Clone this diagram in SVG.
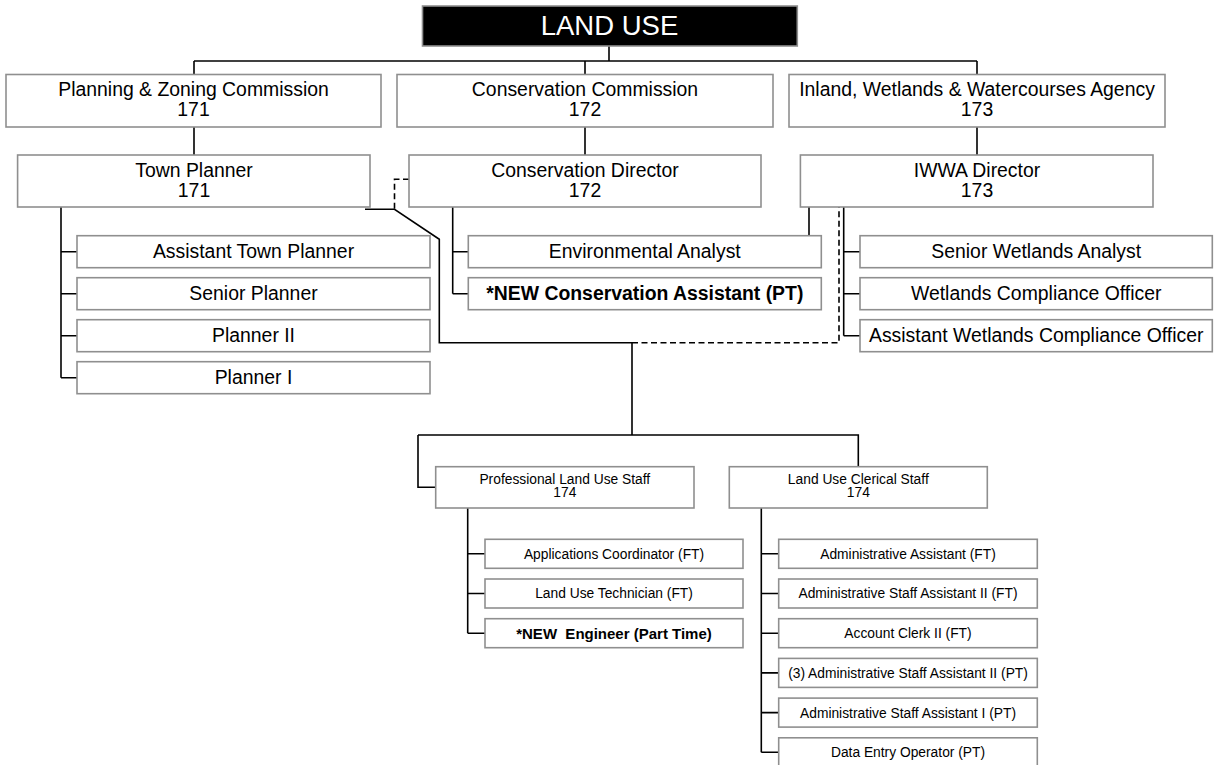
<svg xmlns="http://www.w3.org/2000/svg" width="1215" height="765" viewBox="0 0 1215 765">
  <style>
    .box { fill: #ffffff; stroke: #8f8f8f; stroke-width: 1.6; }
    .head { fill: #000000; stroke: #8f8f8f; stroke-width: 1.6; }
    .ln { fill: none; stroke: #000000; stroke-width: 1.6; }
    .dash { fill: none; stroke: #000000; stroke-width: 1.6; stroke-dasharray: 6 3.5; }
    text { font-family: "Liberation Sans", Arial, sans-serif; text-anchor: middle; fill: #000000; }
    .t1 { font-size: 19.4px; }
    .t2 { font-size: 13.8px; }
    .bold { font-weight: bold; }
    .title { font-size: 27.5px; fill: #ffffff; }
  </style>

  <rect width="1215" height="765" fill="#ffffff"/>

  <!-- reporting lines -->
  <g id="connectors">
    <!-- director level -->
    <path class="ln" d="M609 46 V61"/>
    <path class="ln" d="M194 61 H977"/>
    <path class="ln" d="M194 61 V74 M585 61 V74 M977 61 V74"/>
    <path class="ln" d="M194 127 V155 M585 127 V155 M977 127 V155"/>

    <!-- town planner staff -->
    <path class="ln" d="M61 207 V377.7"/>
    <path class="ln" d="M61 251.7 H77 M61 293.7 H77 M61 335.7 H77 M61 377.7 H77"/>

    <!-- conservation director staff -->
    <path class="ln" d="M452.7 207 V293.7"/>
    <path class="ln" d="M452.7 251.7 H468.3 M452.7 293.7 H468.3"/>
    <path class="ln" d="M809 207 V239"/>

    <!-- IWWA director staff -->
    <path class="ln" d="M843.7 207 V335.7"/>
    <path class="ln" d="M843.7 251.7 H860 M843.7 293.7 H860 M843.7 335.7 H860"/>

    <!-- shared land use staff -->
    <path class="ln" d="M365 209.3 H394.5 L439.3 239.3 V342.7 H632 V435"/>
    <path class="dash" d="M409 179.3 H394.5 V209.3"/>
    <path class="dash" d="M632 342.7 H839 V207"/>
    <path class="ln" d="M418 435 H858.3 V466.7"/>
    <path class="ln" d="M418 435 V487.3 H435.7"/>

    <!-- professional staff -->
    <path class="ln" d="M467.7 508 V633.2"/>
    <path class="ln" d="M467.7 553.8 H485 M467.7 593.5 H485 M467.7 633.2 H485"/>

    <!-- clerical staff -->
    <path class="ln" d="M761.3 508 V752.3"/>
    <path class="ln" d="M761.3 553.8 H778.7 M761.3 593.5 H778.7 M761.3 633.2 H778.7 M761.3 672.9 H778.7 M761.3 712.6 H778.7 M761.3 752.3 H778.7"/>
  </g>

  <g id="n-land-use">
    <rect class="head" x="422.5" y="6" width="374.8" height="40"/>
    <text class="title" x="609.5" y="34.5">LAND USE</text>
  </g>

  <g id="n-planning-zoning">
    <rect class="box" x="6" y="74.5" width="375" height="52.5"/>
    <text class="t1" x="193.5" y="95.5">Planning &amp; Zoning Commission</text>
    <text class="t1" x="193.5" y="115.5">171</text>
  </g>
  <g id="n-conservation-commission">
    <rect class="box" x="397" y="74.5" width="376" height="52.5"/>
    <text class="t1" x="585" y="95.5">Conservation Commission</text>
    <text class="t1" x="585" y="115.5">172</text>
  </g>
  <g id="n-iwwa-agency">
    <rect class="box" x="789" y="74.5" width="376" height="52.5"/>
    <text class="t1" x="977" y="95.5">Inland, Wetlands &amp; Watercourses Agency</text>
    <text class="t1" x="977" y="115.5">173</text>
  </g>

  <g id="n-town-planner">
    <rect class="box" x="17.6" y="155" width="352.4" height="52"/>
    <text class="t1" x="194" y="176.5">Town Planner</text>
    <text class="t1" x="194" y="196.5">171</text>
  </g>
  <g id="n-conservation-director">
    <rect class="box" x="409" y="155" width="352" height="52"/>
    <text class="t1" x="585" y="176.5">Conservation Director</text>
    <text class="t1" x="585" y="196.5">172</text>
  </g>
  <g id="n-iwwa-director">
    <rect class="box" x="800.4" y="155" width="352.6" height="52"/>
    <text class="t1" x="977" y="176.5">IWWA Director</text>
    <text class="t1" x="977" y="196.5">173</text>
  </g>

  <g id="n-assistant-town-planner">
    <rect class="box" x="77" y="235.7" width="353" height="32"/>
    <text class="t1" x="253.5" y="258">Assistant Town Planner</text>
  </g>
  <g id="n-senior-planner">
    <rect class="box" x="77" y="277.7" width="353" height="32"/>
    <text class="t1" x="253.5" y="300">Senior Planner</text>
  </g>
  <g id="n-planner-2">
    <rect class="box" x="77" y="319.7" width="353" height="32"/>
    <text class="t1" x="253.5" y="342">Planner II</text>
  </g>
  <g id="n-planner-1">
    <rect class="box" x="77" y="361.7" width="353" height="32"/>
    <text class="t1" x="253.5" y="384">Planner I</text>
  </g>

  <g id="n-environmental-analyst">
    <rect class="box" x="468.3" y="235.7" width="353" height="32"/>
    <text class="t1" x="644.8" y="258">Environmental Analyst</text>
  </g>
  <g id="n-conservation-assistant">
    <rect class="box" x="468.3" y="277.7" width="353" height="32"/>
    <text class="t1 bold" x="644.8" y="300">*NEW Conservation Assistant (PT)</text>
  </g>

  <g id="n-senior-wetlands-analyst">
    <rect class="box" x="860" y="235.7" width="352.3" height="32"/>
    <text class="t1" x="1036.2" y="258">Senior Wetlands Analyst</text>
  </g>
  <g id="n-wetlands-compliance-officer">
    <rect class="box" x="860" y="277.7" width="352.3" height="32"/>
    <text class="t1" x="1036.2" y="300">Wetlands Compliance Officer</text>
  </g>
  <g id="n-assistant-wetlands-compliance-officer">
    <rect class="box" x="860" y="319.7" width="352.3" height="32"/>
    <text class="t1" x="1036.2" y="342">Assistant Wetlands Compliance Officer</text>
  </g>

  <g id="n-professional-staff">
    <rect class="box" x="435.7" y="466.7" width="258.3" height="41.3"/>
    <text class="t2" x="564.8" y="483.8">Professional Land Use Staff</text>
    <text class="t2" x="564.8" y="497.3">174</text>
  </g>
  <g id="n-clerical-staff">
    <rect class="box" x="729.3" y="466.7" width="258" height="41.3"/>
    <text class="t2" x="858.3" y="483.8">Land Use Clerical Staff</text>
    <text class="t2" x="858.3" y="497.3">174</text>
  </g>

  <g id="n-applications-coordinator">
    <rect class="box" x="485" y="539.3" width="258" height="29"/>
    <text class="t2" x="614" y="558.7">Applications Coordinator (FT)</text>
  </g>
  <g id="n-land-use-technician">
    <rect class="box" x="485" y="579" width="258" height="29"/>
    <text class="t2" x="614" y="598.4">Land Use Technician (FT)</text>
  </g>
  <g id="n-engineer">
    <rect class="box" x="485" y="618.7" width="258" height="29"/>
    <text class="bold" x="614" y="638.6" font-size="15" xml:space="preserve">*NEW  Engineer (Part Time)</text>
  </g>

  <g id="n-administrative-assistant">
    <rect class="box" x="778.7" y="539.3" width="258.6" height="29"/>
    <text class="t2" x="908" y="558.7">Administrative Assistant (FT)</text>
  </g>
  <g id="n-admin-staff-assistant-2-ft">
    <rect class="box" x="778.7" y="579" width="258.6" height="29"/>
    <text class="t2" x="908" y="598.4">Administrative Staff Assistant II (FT)</text>
  </g>
  <g id="n-account-clerk">
    <rect class="box" x="778.7" y="618.7" width="258.6" height="29"/>
    <text class="t2" x="908" y="638.1">Account Clerk II (FT)</text>
  </g>
  <g id="n-admin-staff-assistant-2-pt">
    <rect class="box" x="778.7" y="658.4" width="258.6" height="29"/>
    <text class="t2" x="908" y="677.8">(3) Administrative Staff Assistant II (PT)</text>
  </g>
  <g id="n-admin-staff-assistant-1">
    <rect class="box" x="778.7" y="698.1" width="258.6" height="29"/>
    <text class="t2" x="908" y="717.5">Administrative Staff Assistant I (PT)</text>
  </g>
  <g id="n-data-entry-operator">
    <rect class="box" x="778.7" y="737.8" width="258.6" height="29"/>
    <text class="t2" x="908" y="757.2">Data Entry Operator (PT)</text>
  </g>
</svg>
